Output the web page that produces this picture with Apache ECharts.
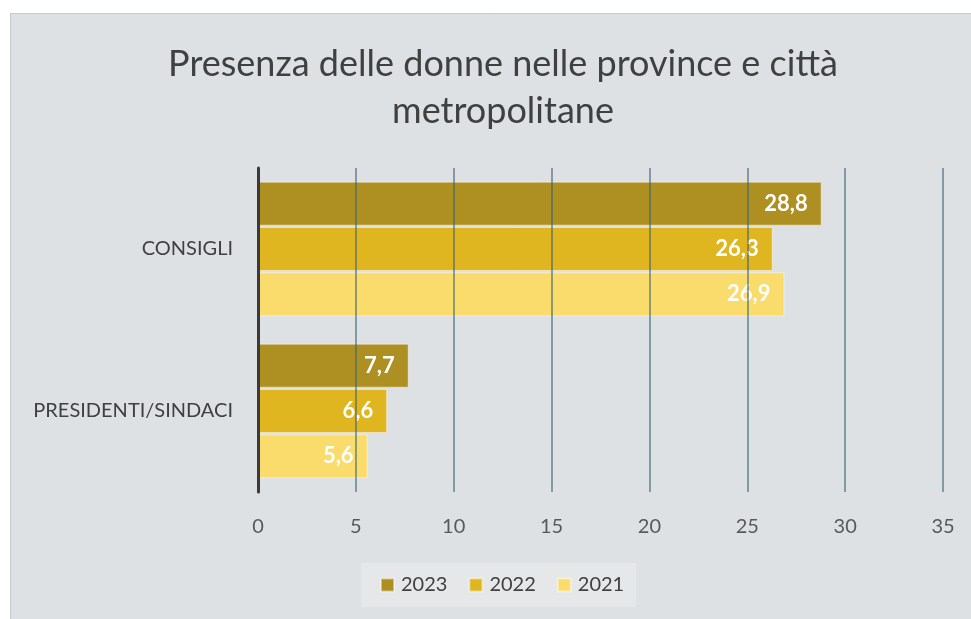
<!DOCTYPE html>
<html><head><meta charset="utf-8">
<script src="https://cdn.jsdelivr.net/npm/echarts@6/dist/echarts.min.js"></script>
<style>html,body{margin:0;padding:0;background:#fff;}#main{width:971px;height:619px;}</style>
</head><body><div id="main"></div>
<script>
const categories = ['CONSIGLI', 'PRESIDENTI/SINDACI'];
const seriesNames = ['2023', '2022', '2021'];
const values2023 = [28.8, 7.7];
const values2022 = [26.3, 6.6];
const values2021 = [26.9, 5.6];
const xTicks = [0, 5, 10, 15, 20, 25, 30, 35];
const colors = ['#ae8f22', '#dfb520', '#f9dc6b'];
const FONT = 'Lato, "Noto Sans", sans-serif';

const chart = echarts.init(document.getElementById('main'));
const dataSets = [values2023, values2022, values2021];
chart.setOption({
  animation: false,
  graphic: [{
    type: 'rect', z: -10, silent: true,
    shape: {x: 10.5, y: 13.5, width: 970, height: 615},
    style: {fill: '#dee1e4', stroke: '#c6c8ca', lineWidth: 1}
  }],
  title: {
    text: 'Presenza delle donne nelle province e città\nmetropolitane',
    left: 498, top: 36, textAlign: 'center',
    textStyle: {fontFamily: FONT, fontSize: 36, fontWeight: 'normal', color: '#404040', lineHeight: 47}
  },
  legend: {
    data: seriesNames,
    bottom: 12, left: 361,
    icon: 'rect', itemWidth: 13, itemHeight: 13, itemGap: 21,
    backgroundColor: '#e5e7e9',
    padding: [12, 12, 12, 19],
    textStyle: {fontFamily: FONT, fontSize: 20, color: '#404040', padding: [0, 0, 0, 2]}
  },
  grid: {left: 258, right: 28, top: 168, bottom: 127, containLabel: false},
  xAxis: {
    type: 'value', min: 0, max: 35, interval: 5, z: 3,
    axisLine: {show: false}, axisTick: {show: false},
    axisLabel: {fontFamily: FONT, fontSize: 20, color: '#595959', margin: 25,
      formatter: v => xTicks.includes(v) ? String(v) : ''},
    splitLine: {show: true, lineStyle: {color: 'rgba(60,100,112,0.75)', width: 1.5}}
  },
  yAxis: {
    type: 'category', data: categories, inverse: true, z: 4,
    axisLine: {show: true, lineStyle: {color: '#3a3a3a', width: 3}},
    axisTick: {show: false},
    axisLabel: {fontFamily: FONT, fontSize: 20, color: '#404040', margin: 25}
  },
  series: seriesNames.map((n, i) => ({
    name: n, type: 'bar', data: dataSets[i],
    barWidth: 44, barGap: '3%',
    itemStyle: {color: colors[i], borderColor: 'rgba(255,255,255,0.45)', borderWidth: 1},
    label: {show: true, position: 'insideRight', distance: 14, color: '#fff',
      fontFamily: FONT, fontSize: 22, fontWeight: 'bold',
      formatter: p => String(p.value).replace('.', ',')}
  }))
});
</script></body></html>
